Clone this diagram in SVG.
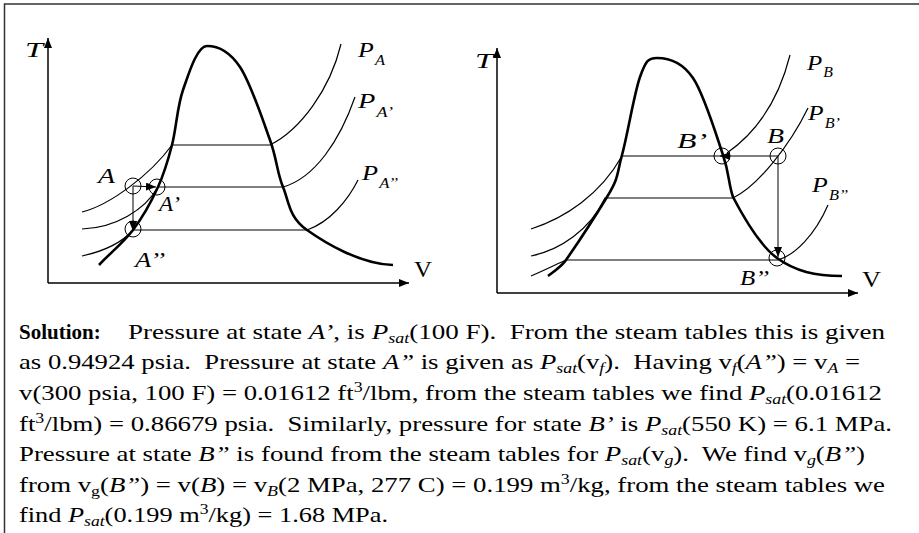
<svg xmlns="http://www.w3.org/2000/svg" width="919" height="533" viewBox="0 0 919 533">
<style>
.thin{fill:none;stroke:#000;stroke-width:1.2}
.dome{fill:none;stroke:#000;stroke-width:2.6}
.axis{fill:none;stroke:#000;stroke-width:1.5}
.pt{fill:none;stroke:#000;stroke-width:1}
.lbl{font-family:"Liberation Serif","Times New Roman",serif;font-size:22px;font-style:italic;fill:#000}
.up{font-family:"Liberation Serif","Times New Roman",serif;font-size:23px;fill:#000}
.sub{font-size:14px}
.body{font-family:"Liberation Serif","Times New Roman",serif;font-size:21px;fill:#000;white-space:pre}
.i{font-style:italic}
.frame{fill:none;stroke:#333;stroke-width:1.5}
</style>
<defs>
<marker id="ah" markerUnits="userSpaceOnUse" markerWidth="11" markerHeight="9" refX="10" refY="4" orient="auto">
<path d="M0,0 L10,4 L0,8 z" fill="#000"/>
</marker>
</defs>
<path class="frame" d="M4.5,533 V4 H919"/>

<g id="diagramA">
<g id="axesA">
<path class="axis" d="M48,283 V38" marker-end="url(#ah)"/>
<path class="axis" d="M48,283 H409" marker-end="url(#ah)"/>
<text class="lbl" x="25" y="57" textLength="18" lengthAdjust="spacingAndGlyphs">T</text>
<text class="up" x="414" y="277" textLength="18" lengthAdjust="spacingAndGlyphs">V</text>
</g>
<g id="domeA">
<path class="dome" d="M99,265 C110,253 123.2,243 133,230 C142.8,217 151.5,201.2 158,187 C164.5,172.8 167.8,161.2 172,145 C176.2,128.8 177.2,106.5 183,90 C188.8,73.5 197,46 207,46 C217,46 229.5,51.3 240,67 C250.5,82.7 262.8,120 270,140 C277.2,160 276.8,172 283,187 C289.2,202 288.7,217 307,230 C325.3,243 360,264 393,265"/>
</g>
<g id="isobarsA">
<path class="thin" d="M82,212 C110,205 150,175 172,145 H270 C300,130 330,90 341,44"/>
<path class="thin" d="M82,229 C115,228 145,210 158,187 H283 C315,178 340,140 355,97"/>
<path class="thin" d="M82,256 C100,252 120,245 133,230 H307 C330,222 348,200 358,180"/>
<text class="lbl" x="358" y="57" textLength="27" lengthAdjust="spacingAndGlyphs">P<tspan class="sub" dx="1" dy="8">A</tspan></text>
<text class="lbl" x="358" y="108" textLength="35" lengthAdjust="spacingAndGlyphs">P<tspan class="sub" dx="1" dy="9">A’</tspan></text>
<text class="lbl" x="362" y="180" textLength="36" lengthAdjust="spacingAndGlyphs">P<tspan class="sub" dx="1" dy="8">A’’</tspan></text>
</g>
<g id="stateA">
<circle class="pt" cx="133" cy="186" r="8"/>
<text class="lbl" x="98" y="183" textLength="17" lengthAdjust="spacingAndGlyphs">A</text>
</g>
<g id="stateA1">
<circle class="pt" cx="157" cy="187" r="8"/>
<text class="lbl" x="159" y="211" textLength="21" lengthAdjust="spacingAndGlyphs">A’</text>
</g>
<g id="stateA2">
<circle class="pt" cx="133" cy="229" r="8"/>
<text class="lbl" x="135" y="267" textLength="30" lengthAdjust="spacingAndGlyphs">A’’</text>
</g>
<g id="connectorsA">
<path class="pt" d="M133,186 L156,187" marker-end="url(#ah)"/>
<path class="pt" d="M133,186 V231" marker-end="url(#ah)"/>
</g>
</g>

<g id="diagramB">
<g id="axesB">
<path class="axis" d="M497,293 V48" marker-end="url(#ah)"/>
<path class="axis" d="M497,293 H858" marker-end="url(#ah)"/>
<text class="lbl" x="475" y="68" textLength="18" lengthAdjust="spacingAndGlyphs">T</text>
<text class="up" x="862" y="287" textLength="19" lengthAdjust="spacingAndGlyphs">V</text>
</g>
<g id="domeB">
<path class="dome" d="M548,276 C556,270 562,266 566,260 C580,240 594.7,217.2 607,197 C619.3,176.8 616.5,175 622,155 C627.5,135 634.2,93.2 640,77 C645.8,60.8 648,58 657,58 C668,58 682,61.8 693,78 C704,94.2 716.3,135.2 723,155 C729.7,174.8 728,182 733,197 C742,214.2 758.8,244.8 777,258 C795.2,271.2 815,276 842,276"/>
</g>
<g id="isobarsB">
<path class="thin" d="M531,229 C565,218 600,195 622,156 H723"/>
<path class="thin" d="M790,55 C780,95 760,130 727,153"/>
<path class="thin" d="M531,256 C560,250 590,230 605,198 H733 C758,186 790,145 808,108"/>
<path class="thin" d="M531,276 C545,270 555,265 566,260 H778 C795,255 815,235 828,205"/>
<text class="lbl" x="807" y="70" textLength="26" lengthAdjust="spacingAndGlyphs">P<tspan class="sub" dx="1" dy="7">B</tspan></text>
<text class="lbl" x="808" y="120" textLength="32" lengthAdjust="spacingAndGlyphs">P<tspan class="sub" dx="1" dy="8">B’</tspan></text>
<text class="lbl" x="812" y="192" textLength="36" lengthAdjust="spacingAndGlyphs">P<tspan class="sub" dx="1" dy="8">B’’</tspan></text>
</g>
<g id="stateB1">
<circle class="pt" cx="722" cy="156" r="8"/>
<text class="lbl" x="677" y="148" textLength="30" lengthAdjust="spacingAndGlyphs">B’</text>
</g>
<g id="stateB">
<circle class="pt" cx="778" cy="156" r="8"/>
<text class="lbl" x="767" y="143" textLength="17" lengthAdjust="spacingAndGlyphs">B</text>
</g>
<g id="stateB2">
<circle class="pt" cx="777" cy="258" r="8"/>
<text class="lbl" x="740" y="285" textLength="29" lengthAdjust="spacingAndGlyphs">B’’</text>
</g>
<g id="connectorsB">
<path class="pt" d="M778,156 H720" marker-end="url(#ah)"/>
<path class="pt" d="M778,156 V257" marker-end="url(#ah)"/>
</g>
</g>

<g id="solution">
<text class="body" x="19" y="339" font-weight="bold">Solution:</text>
<text class="body" x="128" y="339" textLength="757" lengthAdjust="spacingAndGlyphs">Pressure at state <tspan class="i">A’</tspan>, is <tspan class="i">P</tspan><tspan class="i sub" dy="4">sat</tspan><tspan dy="-4">(100 F).  From the steam tables this is given</tspan></text>
<text class="body" x="19" y="369" textLength="841" lengthAdjust="spacingAndGlyphs">as 0.94924 psia.  Pressure at state <tspan class="i">A”</tspan> is given as <tspan class="i">P</tspan><tspan class="i sub" dy="4">sat</tspan><tspan dy="-4">(v</tspan><tspan class="i sub" dy="4">f</tspan><tspan dy="-4">).  Having v</tspan><tspan class="i sub" dy="4">f</tspan><tspan dy="-4">(</tspan><tspan class="i">A”</tspan>) = v<tspan class="i sub" dy="4">A</tspan><tspan dy="-4"> =</tspan></text>
<text class="body" x="19" y="400" textLength="863" lengthAdjust="spacingAndGlyphs">v(300 psia, 100 F) = 0.01612 ft<tspan class="sub" dy="-8">3</tspan><tspan dy="8">/lbm, from the steam tables we find </tspan><tspan class="i">P</tspan><tspan class="i sub" dy="4">sat</tspan><tspan dy="-4">(0.01612</tspan></text>
<text class="body" x="19" y="431" textLength="873" lengthAdjust="spacingAndGlyphs">ft<tspan class="sub" dy="-8">3</tspan><tspan dy="8">/lbm) = 0.86679 psia.  Similarly, pressure for state </tspan><tspan class="i">B’</tspan> is <tspan class="i">P</tspan><tspan class="i sub" dy="4">sat</tspan><tspan dy="-4">(550 K) = 6.1 MPa.</tspan></text>
<text class="body" x="19" y="461" textLength="846" lengthAdjust="spacingAndGlyphs">Pressure at state <tspan class="i">B”</tspan> is found from the steam tables for <tspan class="i">P</tspan><tspan class="i sub" dy="4">sat</tspan><tspan dy="-4">(v</tspan><tspan class="i sub" dy="4">g</tspan><tspan dy="-4">).  We find v</tspan><tspan class="i sub" dy="4">g</tspan><tspan dy="-4">(</tspan><tspan class="i">B”</tspan>)</text>
<text class="body" x="19" y="492" textLength="866" lengthAdjust="spacingAndGlyphs">from v<tspan class="sub" dy="4">g</tspan><tspan dy="-4">(</tspan><tspan class="i">B”</tspan>) = v(<tspan class="i">B</tspan>) = v<tspan class="i sub" dy="4">B</tspan><tspan dy="-4">(2 MPa, 277 C) = 0.199 m</tspan><tspan class="sub" dy="-8">3</tspan><tspan dy="8">/kg, from the steam tables we</tspan></text>
<text class="body" x="19" y="522" textLength="369" lengthAdjust="spacingAndGlyphs">find <tspan class="i">P</tspan><tspan class="i sub" dy="4">sat</tspan><tspan dy="-4">(0.199 m</tspan><tspan class="sub" dy="-8">3</tspan><tspan dy="8">/kg) = 1.68 MPa.</tspan></text>
</g>
</svg>
